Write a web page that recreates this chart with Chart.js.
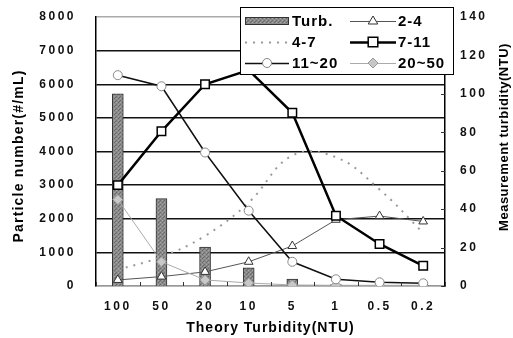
<!DOCTYPE html>
<html>
<head>
<meta charset="utf-8">
<script src="https://cdn.jsdelivr.net/npm/chart.js@4.4.0/dist/chart.umd.min.js"></script>
<style>
	html, body { margin: 0; padding: 0; background: #fff; }
</style>
</head>
<body>
<canvas id="chart" width="513" height="338"></canvas>
<script>
const categories = ['100', '50', '20', '10', '5', '1', '0.5', '0.2']
const turbidity = [100, 45.5, 20.3, 9.4, 3.6, 0.8, 0.4, 0.2]
const range2to4 = [180, 280, 420, 720, 1190, 1970, 2080, 1920]
const range4to7 = [480, 870, 1490, 2480, 3880, 3830, 2870, 1580]
const range7to11 = [3000, 4600, 6000, 6420, 5150, 2090, 1250, 600]
const range11to20 = [6270, 5940, 3970, 2240, 720, 200, 110, 80]
const range20to50 = [2570, 720, 180, 90, 30, 20, 20, 20]
const leftAxis = { max: 8000, step: 1000 }
const rightAxis = { max: 140, step: 20 }

const FAMILY = '"Liberation Sans", Arial, sans-serif'
const tickFont = { family: FAMILY, size: 12, weight: 'bold' }

const canvas = document.getElementById('chart')

// grey stippled fill for the turbidity bars
function makeStipple() {
	const c = document.createElement('canvas')
	c.width = 4
	c.height = 4
	const g = c.getContext('2d')
	g.fillStyle = '#8a8a8a'
	g.fillRect(0, 0, 4, 4)
	g.fillStyle = '#6a6a6a'
	g.fillRect(0, 0, 1, 1)
	g.fillRect(2, 2, 1, 1)
	g.fillRect(3, 1, 1, 1)
	g.fillStyle = '#a6a6a6'
	g.fillRect(2, 0, 1, 1)
	g.fillRect(0, 2, 1, 1)
	return canvas.getContext('2d').createPattern(c, 'repeat')
}

function drawMarker(ctx, style, x, y, r, fill, stroke, width) {
	ctx.save()
	ctx.fillStyle = fill
	ctx.strokeStyle = stroke
	ctx.lineWidth = width
	ctx.beginPath()
	if (style === 'circle') {
		ctx.arc(x, y, r, 0, Math.PI * 2)
	} else if (style === 'triangle') {
		ctx.moveTo(x, y - r)
		ctx.lineTo(x + r * 0.95, y + r * 0.6)
		ctx.lineTo(x - r * 0.95, y + r * 0.6)
		ctx.closePath()
	} else if (style === 'rect') {
		ctx.rect(x - r * 0.8, y - r * 0.8, r * 1.6, r * 1.6)
	} else if (style === 'rectRot') {
		ctx.moveTo(x, y - r)
		ctx.lineTo(x + r, y)
		ctx.lineTo(x, y + r)
		ctx.lineTo(x - r, y)
		ctx.closePath()
	}
	ctx.fill()
	ctx.stroke()
	ctx.restore()
}

function drawLegend(chart) {
	const ctx = chart.ctx
	ctx.save()
	ctx.fillStyle = '#fff'
	ctx.fillRect(240, 7, 213, 68)
	ctx.strokeStyle = '#000'
	ctx.lineWidth = 1
	ctx.strokeRect(240.5, 7.5, 213, 67)

	chart.data.datasets.forEach((ds, i) => {
		const col = i % 2
		const row = Math.floor(i / 2)
		const sx = col === 0 ? 245 : 350
		const ex = col === 0 ? 289 : 396
		const cy = 21 + row * 21
		if (ds.type === 'bar') {
			ctx.fillStyle = ds.backgroundColor
			ctx.fillRect(sx, cy - 4, ex - sx, 8)
			ctx.strokeStyle = ds.borderColor
			ctx.lineWidth = 1
			ctx.strokeRect(sx + 0.5, cy - 3.5, ex - sx - 1, 7)
		} else {
			ctx.save()
			ctx.strokeStyle = ds.borderColor
			ctx.lineWidth = ds.borderWidth
			ctx.setLineDash(ds.borderDash || [])
			ctx.beginPath()
			ctx.moveTo(sx, cy + 0.5)
			ctx.lineTo(ex, cy + 0.5)
			ctx.stroke()
			ctx.restore()
			if (ds.pointRadius > 0) {
				drawMarker(ctx, ds.pointStyle, (sx + ex) / 2, cy, ds.pointRadius,
					ds.pointBackgroundColor, ds.pointBorderColor, ds.pointBorderWidth)
			}
		}
		ctx.fillStyle = '#000'
		ctx.font = 'bold 15px ' + FAMILY
		ctx.letterSpacing = '1px'
		ctx.textAlign = 'left'
		ctx.textBaseline = 'middle'
		ctx.fillText(ds.label, col === 0 ? 292 : 398, cy + 1)
	})
	ctx.restore()
}

const decorations = {
	id: 'decorations',
	beforeDraw(chart) {
		chart.ctx.letterSpacing = '2.5px'
	},
	afterDraw(chart) {
		const { ctx, chartArea, scales } = chart
		ctx.save()
		ctx.letterSpacing = '0px'

		// small marks between categories on the bottom axis
		ctx.strokeStyle = '#333'
		ctx.lineWidth = 1
		const step = scales.x.getPixelForValue(1) - scales.x.getPixelForValue(0)
		for (let i = 0; i <= categories.length; i++) {
			const x = Math.round(scales.x.getPixelForValue(i) - step / 2) + 0.5
			ctx.beginPath()
			ctx.moveTo(x, chartArea.bottom)
			ctx.lineTo(x, chartArea.bottom - 4)
			ctx.stroke()
		}
		// inner tick marks on the right axis
		scales.y1.ticks.forEach((t) => {
			const y = Math.round(scales.y1.getPixelForValue(t.value)) + 0.5
			ctx.beginPath()
			ctx.moveTo(chartArea.right - 4, y)
			ctx.lineTo(chartArea.right, y)
			ctx.stroke()
		})

		// axis titles
		ctx.fillStyle = '#000'
		ctx.textAlign = 'center'
		ctx.textBaseline = 'middle'
		ctx.font = 'bold 14px ' + FAMILY
		ctx.letterSpacing = '1px'
		ctx.fillText('Theory Turbidity(NTU)', (chartArea.left + chartArea.right) / 2, 328)

		ctx.save()
		ctx.translate(19, 156)
		ctx.rotate(-Math.PI / 2)
		ctx.letterSpacing = '1.2px'
		ctx.fillText('Particle number(#/mL)', 0, 0)
		ctx.restore()

		ctx.save()
		ctx.translate(504, 137)
		ctx.rotate(-Math.PI / 2)
		ctx.font = 'bold 13px ' + FAMILY
		ctx.letterSpacing = '0.5px'
		ctx.fillText('Measurement turbidity(NTU)', 0, 0)
		ctx.restore()

		ctx.restore()
		drawLegend(chart)
	},
}

new Chart(canvas, {
	type: 'bar',
	data: {
		labels: categories,
		datasets: [
			{
				type: 'bar',
				label: 'Turb.',
				data: turbidity,
				yAxisID: 'y1',
				backgroundColor: makeStipple(),
				borderColor: '#333',
				borderWidth: 1,
				barThickness: 11,
				order: 10,
			},
			{
				type: 'line',
				label: '2-4',
				data: range2to4,
				yAxisID: 'y',
				borderColor: '#555',
				borderWidth: 1,
				pointStyle: 'triangle',
				pointRadius: 5,
				pointBackgroundColor: '#fff',
				pointBorderColor: '#333',
				pointBorderWidth: 1,
				order: 5,
			},
			{
				type: 'line',
				label: '4-7',
				data: range4to7,
				yAxisID: 'y',
				borderColor: '#999',
				borderWidth: 2,
				borderDash: [2, 6],
				tension: 0.4,
				pointRadius: 0,
				order: 6,
			},
			{
				type: 'line',
				label: '7-11',
				data: range7to11,
				yAxisID: 'y',
				borderColor: '#000',
				borderWidth: 2.5,
				pointStyle: 'rect',
				pointRadius: 6,
				pointBackgroundColor: '#fff',
				pointBorderColor: '#000',
				pointBorderWidth: 1.5,
				order: 1,
			},
			{
				type: 'line',
				label: '11~20',
				data: range11to20,
				yAxisID: 'y',
				borderColor: '#111',
				borderWidth: 1.5,
				pointStyle: 'circle',
				pointRadius: 4.5,
				pointBackgroundColor: '#fff',
				pointBorderColor: '#888',
				pointBorderWidth: 1,
				order: 2,
			},
			{
				type: 'line',
				label: '20~50',
				data: range20to50,
				yAxisID: 'y',
				borderColor: '#aaa',
				borderWidth: 1,
				pointStyle: 'rectRot',
				pointRadius: 5,
				pointBackgroundColor: '#c8c8c8',
				pointBorderColor: '#999',
				pointBorderWidth: 1,
				order: 3,
			},
		],
	},
	options: {
		responsive: false,
		animation: false,
		devicePixelRatio: 1,
		layout: { padding: { top: 17, left: 0, right: 0, bottom: 0 } },
		plugins: {
			legend: { display: false },
			tooltip: { enabled: false },
		},
		scales: {
			x: {
				offset: true,
				grid: { display: false, drawTicks: false },
				border: { display: true, color: '#999', width: 1.5 },
				ticks: { font: tickFont, color: '#111', padding: 13, maxRotation: 0 },
				afterFit: (s) => {
					s.height = 52
				},
			},
			y: {
				position: 'left',
				min: 0,
				max: leftAxis.max,
				ticks: {
					stepSize: leftAxis.step,
					font: tickFont,
					color: '#111',
					padding: 20,
					callback: (v) => String(v),
				},
				grid: {
					drawTicks: false,
					lineWidth: 1.5,
					color: (c) => (c.tick.value === 0 || c.tick.value === leftAxis.max ? '#aaa' : '#111'),
				},
				border: { display: true, color: '#000', width: 1.5 },
				afterFit: (s) => {
					s.width = 96
					s.paddingTop = 8
					s.paddingBottom = 8
				},
			},
			y1: {
				position: 'right',
				min: 0,
				max: rightAxis.max,
				ticks: { stepSize: rightAxis.step, font: tickFont, color: '#111', padding: 15 },
				grid: { display: false, drawTicks: false },
				border: { display: true, color: '#000', width: 1.5 },
				afterFit: (s) => {
					s.width = 68
					s.paddingTop = 8
					s.paddingBottom = 8
				},
			},
		},
	},
	plugins: [decorations],
})
</script>
</body>
</html>
